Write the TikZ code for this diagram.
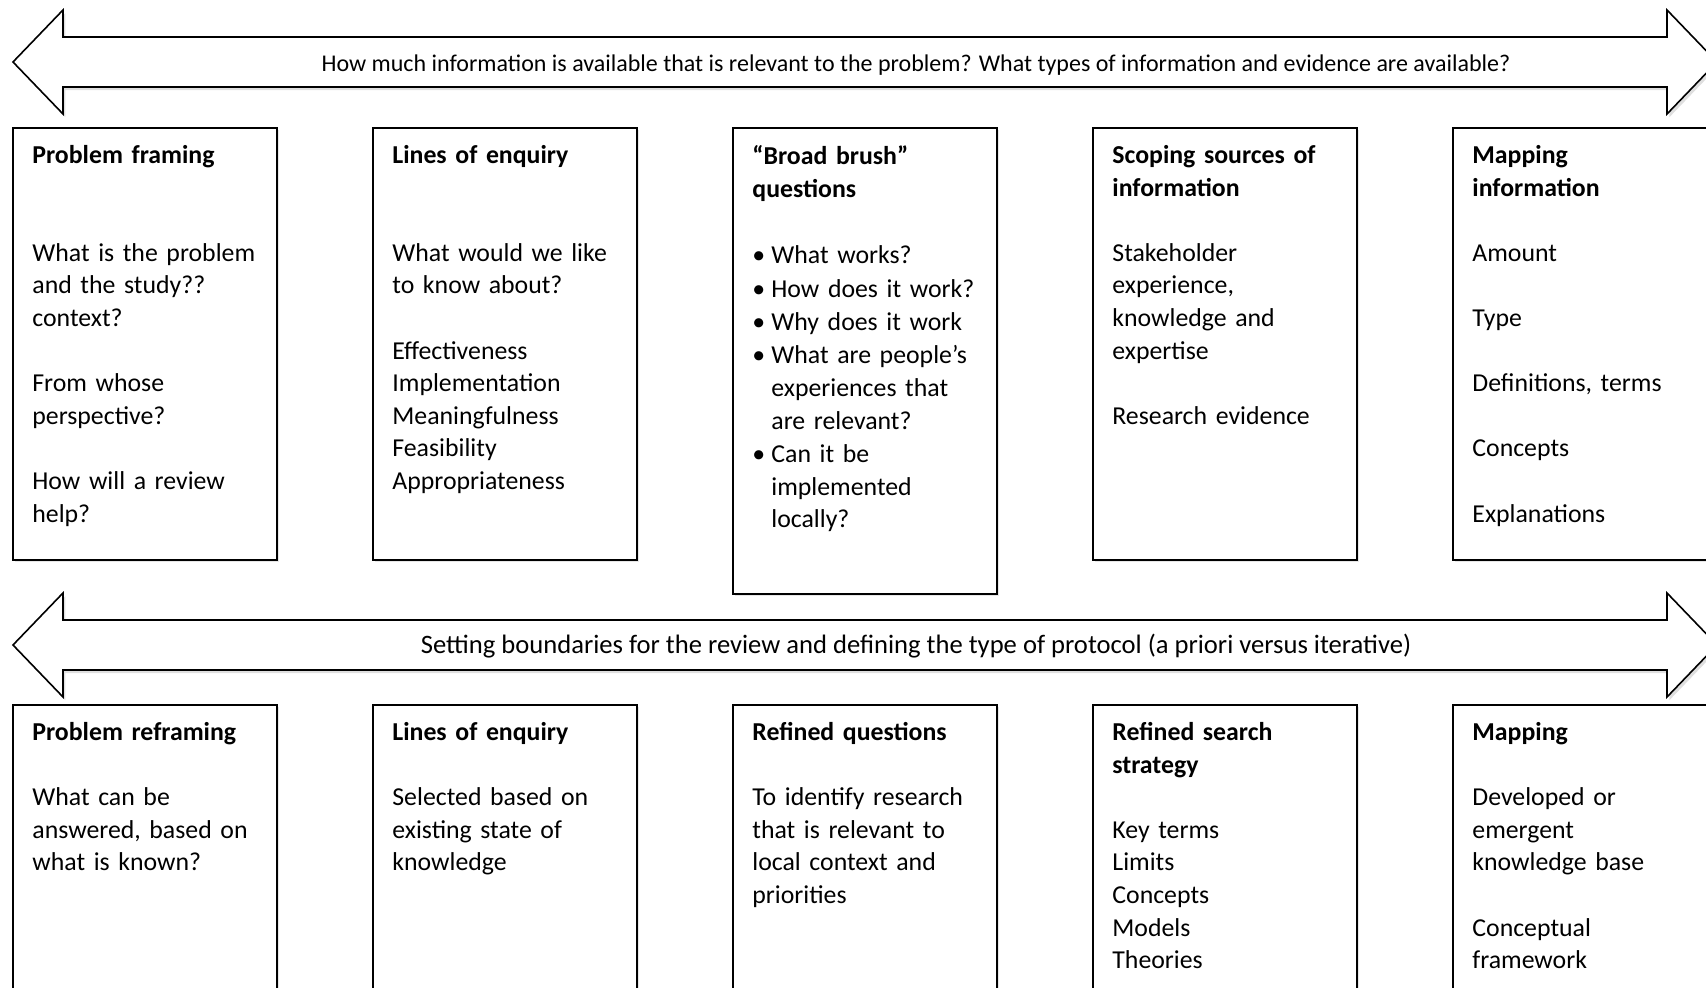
\documentclass[tikz,border=0pt]{standalone}
\usepackage{fontspec}
\setmainfont{Carlito}
\usetikzlibrary{calc,shadows}
\newcommand{\boxwd}{264}
\newcommand{\tipx}{13}
\newcommand{\basex}{63}
\newcommand{\headx}{1667}
\newcommand{\bul}{\makebox[9.5pt][l]{•}}
\newcommand{\ind}{\hspace*{9.5pt}}
% #2 centre y, #3 name, #4 text
\newcommand{\band}[4][]{\draw[band] (\tipx,#2) -- (\basex,#2-52) -- (\basex,#2-25) -- (\headx,#2-25) -- (\headx,#2-52) -- (\headx+50,#2) -- (\headx,#2+52) -- (\headx,#2+25) -- (\basex,#2+25) -- (\basex,#2+52) -- cycle;
  \node[bandtext,#1] (#3) at (916,#2) {#4};}
% #1 left x, #2 top y, #3 height, #4 name, #5 text
\newcommand{\stage}[5]{\draw[stagebox] (#1,#2) rectangle ++(\boxwd,#3);
  \node[stagetext] (#4) at (#1,#2) {#5};}
\tikzset{
  band/.style={draw, line width=0.8pt, fill=white, drop shadow={shadow xshift=1.2pt, shadow yshift=-1.6pt, opacity=0.25}},
  bandtext/.style={font=\fontsize{12}{14}\selectfont, inner sep=0pt},
  stagebox/.style={draw, line width=0.8pt, fill=white, drop shadow={shadow xshift=0.8pt, shadow yshift=-0.8pt, opacity=0.2}},
  stagetext/.style={anchor=north west, align=left, text width=122pt, inner xsep=9.5pt, inner ysep=8.5pt, font=\fontsize{12.9}{16.3}\selectfont},
}

\begin{document}
\begin{tikzpicture}[x=0.5pt,y=-0.5pt]
	\useasboundingbox (0,0) rectangle (1706,988);
	\clip (0,0) rectangle (1706,988);

    \band[yshift=-1.6pt]{62}{info}{How much information is available that is relevant to the problem? What types of information and evidence are available?}

    \stage{13}{128}{432}{pf}{\textbf{Problem framing}\\[2\baselineskip] What is the problem\\ and the study??\\ context?\\[\baselineskip] From whose\\ perspective?\\[\baselineskip] How will a review\\ help?}
    \stage{373}{128}{432}{le}{\textbf{Lines of enquiry}\\[2\baselineskip] What would we like\\ to know about?\\[\baselineskip] Effectiveness\\ Implementation\\ Meaningfulness\\ Feasibility\\ Appropriateness}
    \stage{733}{128}{466}{bb}{\textbf{“Broad brush”}\\ \textbf{questions}\\[17pt] \bul What works?\\[0.4pt] \bul How does it work?\\[0.4pt] \bul Why does it work\\[0.4pt] \bul What are people’s\\ \ind experiences that\\ \ind are relevant?\\[0.4pt] \bul Can it be\\ \ind implemented\\ \ind locally?}
    \stage{1093}{128}{432}{ss}{\textbf{Scoping sources of}\\ \textbf{information}\\[\baselineskip] Stakeholder\\ experience,\\ knowledge and\\ expertise\\[\baselineskip] Research evidence}
    \stage{1453}{128}{432}{mi}{\textbf{Mapping}\\ \textbf{information}\\[\baselineskip] Amount\\[\baselineskip] Type\\[\baselineskip] Definitions, terms\\[\baselineskip] Concepts\\[\baselineskip] Explanations}

    \band[font=\fontsize{13.3}{15}\selectfont, yshift=-0.5pt]{645}{bound}{Setting boundaries for the review and defining the type of protocol (a priori versus iterative)}

    \stage{13}{705}{320}{pr}{\textbf{Problem reframing}\\[\baselineskip] What can be\\ answered, based on\\ what is known?}
    \stage{373}{705}{320}{le2}{\textbf{Lines of enquiry}\\[\baselineskip] Selected based on\\ existing state of\\ knowledge}
    \stage{733}{705}{320}{rq}{\textbf{Refined questions}\\[\baselineskip] To identify research\\ that is relevant to\\ local context and\\ priorities}
    \stage{1093}{705}{320}{rs}{\textbf{Refined search}\\ \textbf{strategy}\\[\baselineskip] Key terms\\ Limits\\ Concepts\\ Models\\ Theories}
    \stage{1453}{705}{320}{mp}{\textbf{Mapping}\\[\baselineskip] Developed or\\ emergent\\ knowledge base\\[\baselineskip] Conceptual\\ framework}
\end{tikzpicture}
\end{document}
